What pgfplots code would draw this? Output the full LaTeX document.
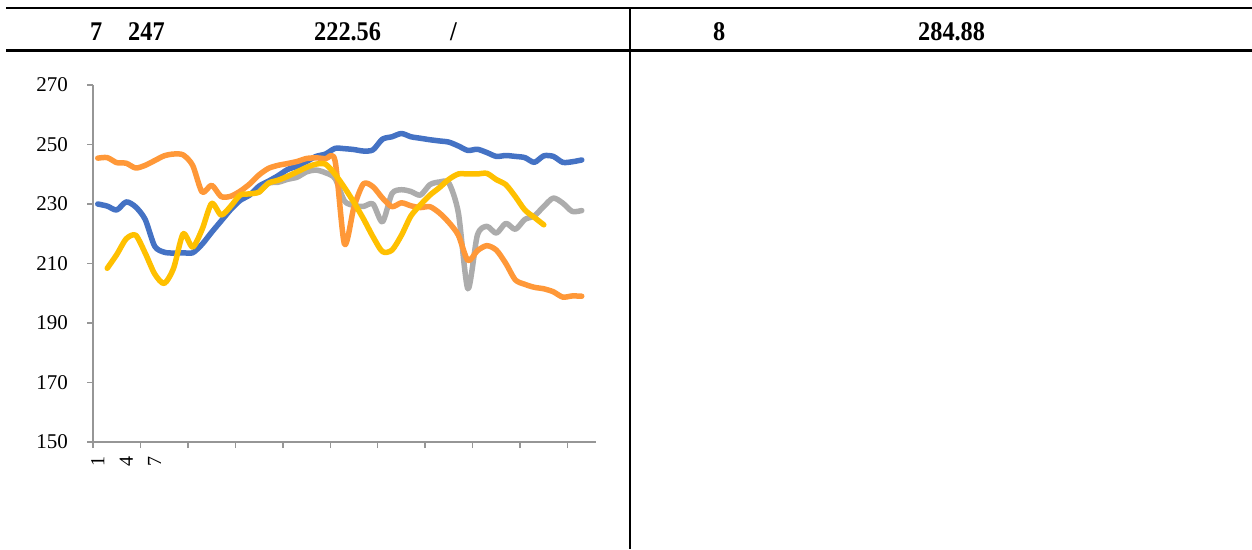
\documentclass[border=0pt]{standalone}
\usepackage{fontspec}
\setmainfont{Liberation Serif}
\newfontfamily\headfont[FakeStretch=0.9]{Liberation Serif}
\usepackage{pgfplots}
\pgfplotsset{compat=1.18}
\definecolor{sblue}{HTML}{4472C4}
\definecolor{sorange}{RGB}{255,152,56}
\definecolor{sgray}{RGB}{172,172,172}
\definecolor{syellow}{HTML}{FFC000}
\definecolor{axgray}{RGB}{150,150,150}
\begin{document}
\begin{tikzpicture}[x=1pt,y=1pt]
\path[use as bounding box] (0,0) rectangle (1252,-549);
% table rules
\draw[line width=2.5pt] (6,-8) -- (1252,-8);
\draw[line width=2.5pt] (6,-50.5) -- (1252,-50.5);
\draw[line width=2.5pt] (630,-8) -- (630,-549);
% header cells
\begin{scope}[every node/.style={anchor=base west,inner sep=0pt,font=\headfont\fontsize{27}{30}\selectfont\bfseries}]
\node at (90,-40) {7};
\node at (128,-40) {247};
\node at (314,-40) {222.56};
\node at (450,-40) {/};
\node at (713,-40) {8};
\node at (918,-40) {284.88};
\end{scope}
\begin{axis}[
    at={(93pt,-442pt)}, anchor=south west,
    scale only axis, width=503pt, height=357pt,
    axis lines*=left,
    axis line style={-, draw=axgray, line width=1.5pt},
    xmin=0.5, xmax=53.5, ymin=150, ymax=270,
    ytick={150,170,...,270},
    xtick={0.5,5.5,...,50.5}, xticklabels={},
    extra x ticks={1,4,7}, extra x tick labels={1,4,7},
    extra x tick style={major tick length=0pt,
        xticklabel style={rotate=90, anchor=east, inner sep=0pt, xshift=-14pt,
            font=\fontsize{20}{22}\selectfont}},
    tick align=outside, major tick length=6pt,
    tick style={draw=axgray, line width=1.5pt},
    /pgf/number format/assume math mode=true,
    yticklabel style={font=\fontsize{21}{24}\selectfont, anchor=east, inner sep=0pt, xshift=-19pt},
    clip=false,
    every axis plot/.append style={line width=5.5pt, smooth, tension=0.45, line cap=round, line join=round},
]
\addplot[sblue] coordinates {
(1,230.0)(2,229.3)(3,228.0)(4,230.7)(5,229.0)(6,224.8)(7,215.8)(8,213.8)(9,213.5)(10,213.6)
(11,213.6)(12,216.5)(13,220.5)(14,224.3)(15,228.1)(16,231.2)(17,233.0)(18,236.0)(19,237.7)(20,239.5)
(21,241.6)(22,242.7)(23,244.3)(24,246.0)(25,246.8)(26,248.7)(27,248.6)(28,248.3)(29,247.8)(30,248.2)
(31,251.8)(32,252.6)(33,253.7)(34,252.6)(35,252.1)(36,251.6)(37,251.2)(38,250.8)(39,249.5)(40,248.0)
(41,248.4)(42,247.3)(43,246.0)(44,246.3)(45,246.0)(46,245.6)(47,244.0)(48,246.2)(49,246.0)(50,244.0)
(51,244.2)(52,244.8)};
\addplot[sgray] coordinates {
(18,234.0)(19,237.0)(20,237.3)(21,238.3)(22,239.0)(23,240.8)(24,241.4)(25,240.5)(26,238.6)(27,231.0)
(28,229.5)(29,229.2)(30,230.0)(31,224.0)(32,233.5)(33,234.8)(34,234.2)(35,233.0)(36,236.5)(37,237.4)
(38,237.0)(39,227.0)(40,201.5)(41,219.5)(42,222.5)(43,220.2)(44,223.5)(45,221.5)(46,224.8)(47,226.0)
(48,229.2)(49,232.0)(50,230.3)(51,227.5)(52,227.8)};
\addplot[sorange] coordinates {
(1,245.4)(2,245.6)(3,243.9)(4,243.7)(5,242.1)(6,243.0)(7,244.6)(8,246.2)(9,246.8)(10,246.5)
(11,243.0)(12,234.0)(13,236.3)(14,232.5)(15,232.6)(16,234.3)(17,236.7)(18,239.8)(19,242.0)(20,243.0)
(21,243.6)(22,244.3)(23,245.3)(24,245.5)(25,245.2)(26,244.6)(27,216.5)(28,229.0)(29,236.8)(30,235.8)
(31,232.0)(32,229.1)(33,230.4)(34,229.4)(35,228.8)(36,229.1)(37,227.0)(38,223.8)(39,219.5)(40,211.0)
(41,214.3)(42,216.0)(43,214.5)(44,210.0)(45,204.5)(46,203.0)(47,202.0)(48,201.5)(49,200.5)(50,198.7)
(51,199.1)(52,199.0)};
\addplot[syellow] coordinates {
(2,208.4)(3,213.0)(4,218.3)(5,219.5)(6,213.5)(7,206.5)(8,203.3)(9,208.5)(10,220.0)
(11,215.5)(12,221.5)(13,230.2)(14,226.3)(15,229.2)(16,233.0)(17,233.4)(18,234.0)(19,237.0)(20,238.0)
(21,239.3)(22,240.8)(23,242.3)(24,243.4)(25,243.4)(26,240.0)(27,235.5)(28,230.5)(29,225.0)(30,219.0)
(31,214.0)(32,214.5)(33,219.5)(34,226.0)(35,229.7)(36,233.0)(37,235.5)(38,238.3)(39,240.1)(40,240.1)
(41,240.1)(42,240.3)(43,238.2)(44,236.5)(45,232.5)(46,228.0)(47,225.5)(48,223.0)};
\end{axis}
\end{tikzpicture}
\end{document}
